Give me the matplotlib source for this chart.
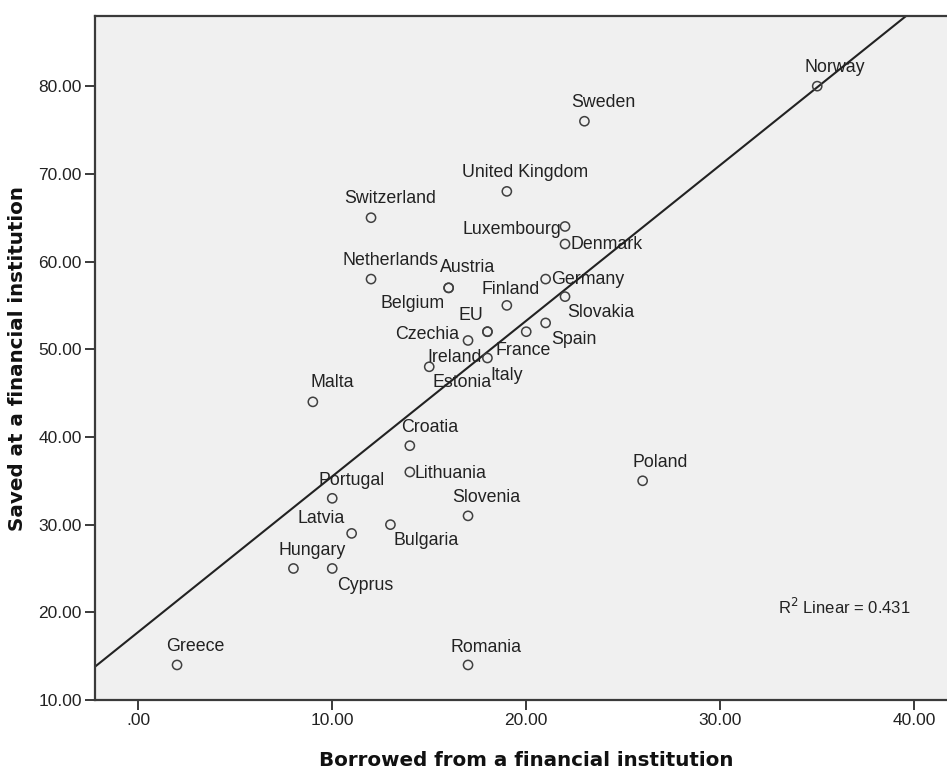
import numpy as np
import matplotlib.pyplot as plt
from matplotlib.ticker import FuncFormatter, FixedLocator

countries = ['Norway', 'Sweden', 'United Kingdom', 'Switzerland', 'Luxembourg',
             'Denmark', 'Netherlands', 'Austria', 'Belgium', 'Germany', 'Finland',
             'Slovakia', 'EU', 'Ireland', 'Czechia', 'Spain', 'France', 'Italy',
             'Estonia', 'Malta', 'Croatia', 'Lithuania', 'Portugal', 'Slovenia',
             'Latvia', 'Bulgaria', 'Hungary', 'Cyprus', 'Poland', 'Greece', 'Romania']
borrowed = [35, 23, 19, 12, 22, 22, 12, 16, 16, 21, 19, 22, 18, 18, 17, 21, 20, 18,
            15, 9, 14, 14, 10, 17, 11, 13, 8, 10, 26, 2, 17]
saved = [80, 76, 68, 65, 64, 62, 58, 57, 57, 58, 55, 56, 52, 52, 51, 53, 52, 49,
         48, 44, 39, 36, 33, 31, 29, 30, 25, 25, 35, 14, 14]
r2_text = 'R$^2$ Linear = 0.431'

# label placement: (dx, dy) in pixels from the point, plus alignment
label_pos = {
    'Norway': (18, 19, 'center'), 'Sweden': (19, 19, 'center'),
    'United Kingdom': (18, 19, 'center'), 'Switzerland': (19, 19, 'center'),
    'Luxembourg': (-4, -3, 'right'), 'Denmark': (5, 0, 'left'),
    'Netherlands': (19, 19, 'center'), 'Austria': (19, 20, 'center'),
    'Belgium': (-36, -16, 'center'), 'Germany': (5, 0, 'left'),
    'Finland': (4, 16, 'center'), 'Slovakia': (36, -16, 'center'),
    'EU': (-17, 16, 'center'), 'Ireland': (-33, -26, 'center'),
    'Czechia': (-9, 6, 'right'), 'Spain': (28, -17, 'center'),
    'France': (-3, -19, 'center'), 'Italy': (19, -17, 'center'),
    'Estonia': (33, -16, 'center'), 'Malta': (19, 19, 'center'),
    'Croatia': (20, 18, 'center'), 'Lithuania': (5, -1, 'left'),
    'Portugal': (19, 18, 'center'), 'Slovenia': (18, 18, 'center'),
    'Latvia': (-31, 15, 'center'), 'Bulgaria': (36, -16, 'center'),
    'Hungary': (19, 18, 'center'), 'Cyprus': (33, -17, 'center'),
    'Poland': (18, 18, 'center'), 'Greece': (18, 18, 'center'),
    'Romania': (18, 17, 'center'),
}

plt.rcParams['font.family'] = ['Liberation Sans', 'DejaVu Sans']
dark = '#3a3a3a'

fig = plt.figure(figsize=(9.47, 7.69), dpi=100)
ax = fig.add_axes([0.1003, 0.0897, 0.8997, 0.8895])
ax.set_facecolor('#f0f0f0')

x = np.array(borrowed, dtype=float)
y = np.array(saved, dtype=float)
ax.scatter(x, y, s=44, facecolors='none', edgecolors='#404040', linewidths=1.1, zorder=3)

# least squares fit line across the whole plotting range
slope, intercept = np.polyfit(x, y, 1)
xl = np.array([-5, 50])
ax.plot(xl, slope * xl + intercept, color='#222222', lw=1.5, zorder=2)

for name, xi, yi in zip(countries, borrowed, saved):
    dx, dy, ha = label_pos[name]
    ax.annotate(name, (xi, yi), xytext=(dx, dy), textcoords='offset pixels',
                ha=ha, va='center', fontsize=12.8, color='#222222', zorder=4)

ax.text(0.802, 0.136, r2_text, transform=ax.transAxes, ha='left', va='center',
        fontsize=12, color='#222222')

ax.set_xlim(-2.23, 41.69)
ax.set_ylim(10, 88)
ax.xaxis.set_major_locator(FixedLocator([0, 10, 20, 30, 40]))
ax.yaxis.set_major_locator(FixedLocator([10, 20, 30, 40, 50, 60, 70, 80]))


def fmt(v, pos):
    s = f'{v:.2f}'
    return s[1:] if s.startswith('0') else s


ax.xaxis.set_major_formatter(FuncFormatter(fmt))
ax.yaxis.set_major_formatter(FuncFormatter(fmt))
ax.tick_params(direction='out', length=7.5, width=1.4, color=dark,
               labelsize=12.5, labelcolor='#222222', pad=2)

for side in ['left', 'bottom', 'top']:
    ax.spines[side].set_color(dark)
    ax.spines[side].set_linewidth(1.6)
ax.spines['right'].set_visible(False)

fig.text(0.556, 0.004, 'Borrowed from a financial institution', ha='center', va='baseline',
         fontsize=14.3, fontweight='bold', family='DejaVu Sans', color='#111111')
fig.text(0.019, 0.534, 'Saved at a financial institution', ha='center', va='center',
         rotation=90, fontsize=14.3, fontweight='bold', family='DejaVu Sans', color='#111111')

fig.savefig('out.png', dpi=100)
